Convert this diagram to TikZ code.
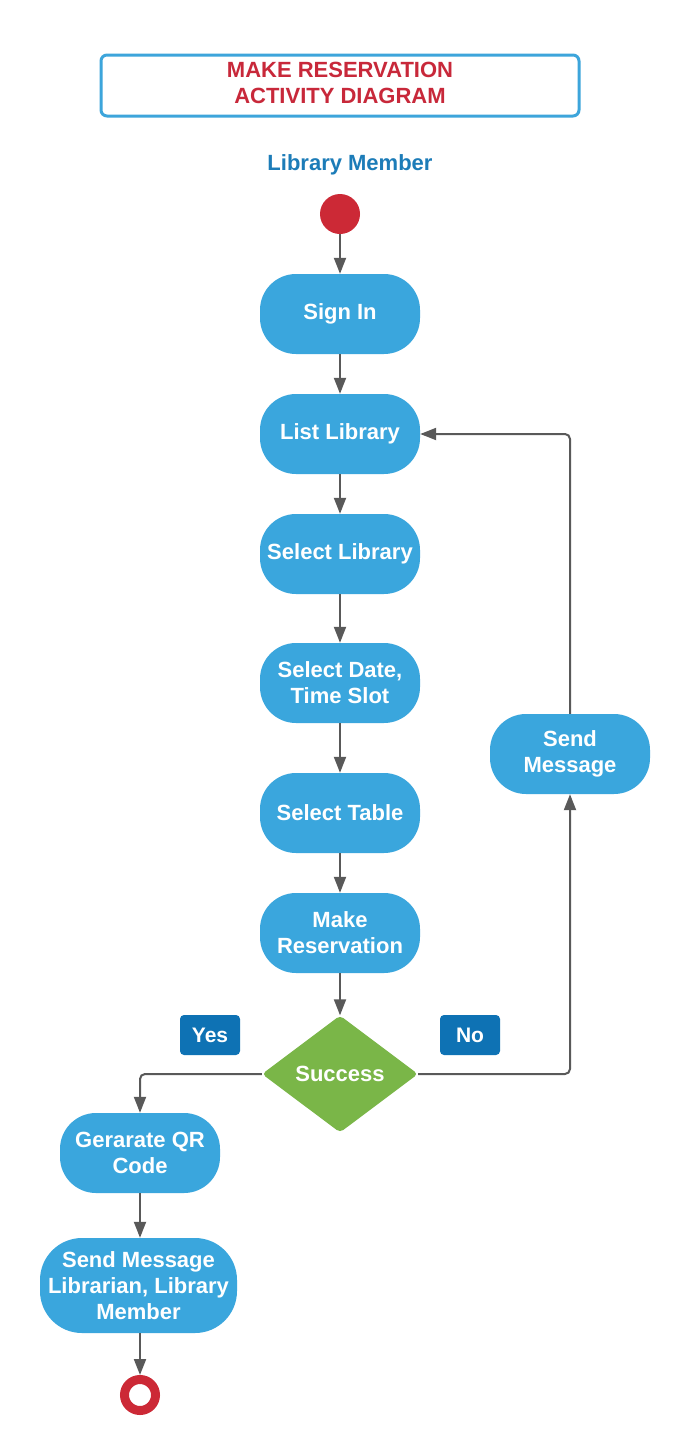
\documentclass[tikz,border=0pt]{standalone}
\usepackage{fontspec}
\setmainfont{Liberation Sans}
\usetikzlibrary{arrows.meta,shapes.geometric}
\definecolor{nodeblue}{HTML}{3AA6DD}
\definecolor{titleblue}{HTML}{3DA5DB}
\definecolor{titlered}{HTML}{C8283A}
\definecolor{lanetext}{HTML}{1C7CB8}
\definecolor{startred}{HTML}{CC2936}
\definecolor{decgreen}{HTML}{7AB648}
\definecolor{tagblue}{HTML}{0E72B4}
\definecolor{linegray}{HTML}{595959}
\tikzset{
  txt/.style={font=\fontsize{22}{26}\selectfont\bfseries, align=center},
  actbox/.style={txt, fill=nodeblue, text=white, rounded corners=36pt, minimum width=160pt, minimum height=80pt, inner sep=0pt},
  tagbox/.style={txt, fill=tagblue, text=white, rounded corners=4pt, minimum width=60pt, minimum height=40pt, inner sep=0pt, font=\fontsize{21}{25}\selectfont\bfseries},
  flow/.style={draw=linegray, line width=2pt, -{Triangle[length=16pt,width=12pt]}, rounded corners=5pt}
}
\begin{document}
\begin{tikzpicture}[x=1pt,y=-1pt]
\useasboundingbox (0,0) rectangle (690,1456);
\fill[white] (0,0) rectangle (690,1456);
% title
\node[draw=titleblue, line width=3pt, rounded corners=6pt, minimum width=478pt, minimum height=61pt, inner sep=0pt] (title) at (340,85.5) {};
\node[txt, text=titlered, inner sep=0pt] (titletext) at (340,82.5) {MAKE RESERVATION\\ACTIVITY DIAGRAM};
\node[txt, text=lanetext] (lane) at (350,165) {Library Member};
% start
\node[circle, fill=startred, minimum size=40pt, inner sep=0pt] (start) at (340,214) {};
% actions
\node[actbox] (signin) at (340,314) {Sign In};
\node[actbox] (list) at (340,434) {List Library};
\node[actbox] (sel) at (340,554) {Select Library};
\node[actbox] (date) at (340,683) {Select Date,\\Time Slot};
\node[actbox] (table) at (340,813) {Select Table};
\node[actbox] (make) at (340,933) {Make\\Reservation};
\node[txt, diamond, fill=decgreen, text=white, minimum width=156pt, minimum height=117pt, inner sep=0pt, rounded corners=4pt] (dec) at (340,1074) {Success};
\node[tagbox] (yes) at (210,1035) {Yes};
\node[tagbox] (no) at (470,1035) {No};
\node[actbox] (msg) at (570,754) {Send\\Message};
\node[actbox] (qr) at (140,1153) {Gerarate QR\\Code};
\node[actbox, minimum width=197pt, minimum height=95pt, rounded corners=42pt] (msglib) at (138.5,1285.5) {Send Message\\Librarian, Library\\Member};
% end
\node[circle, draw=startred, line width=9pt, minimum size=31pt, inner sep=0pt, fill=white] (end) at (140,1395) {};
% connectors
\draw[flow] (start) -- (signin);
\draw[flow] (signin) -- (list);
\draw[flow] (list) -- (sel);
\draw[flow] (sel) -- (date);
\draw[flow] (date) -- (table);
\draw[flow] (table) -- (make);
\draw[flow] (make) -- (dec);
\draw[flow] (dec.west) -| (qr.north);
\draw[flow] (dec.east) -| (msg.south);
\draw[flow] (msg.north) |- (list.east);
\draw[flow] (qr.south) -- (qr.south |- msglib.north);
\draw[flow] (msglib.south -| end) -- (end);
\end{tikzpicture}
\end{document}
